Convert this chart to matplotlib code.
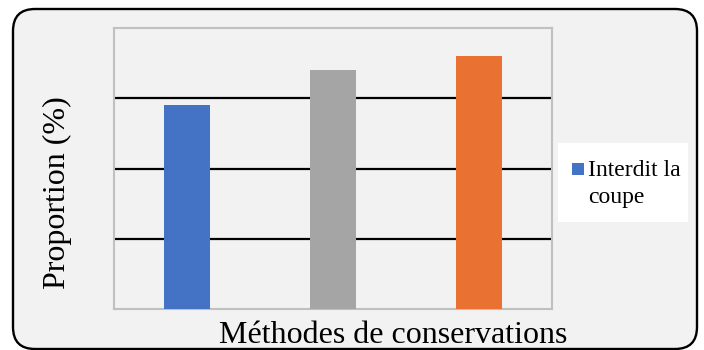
import matplotlib
matplotlib.use("Agg")
import matplotlib.pyplot as plt
from matplotlib.patches import FancyBboxPatch, Rectangle

plt.rcParams['font.family'] = ['Liberation Serif', 'DejaVu Serif']

# Proportions par méthode de conservation
methodes = ['Interdit la coupe', 'Méthode 2', 'Méthode 3']
proportions = [72.6, 85.1, 90.0]
couleurs = ['#4472c4', '#a5a5a5', '#e97132']
legende = ['Interdit la', 'coupe']

W, H = 704, 350
fig = plt.figure(figsize=(W / 100, H / 100), dpi=100, facecolor='white')

# Fond arrondi du graphique (coordonnées en pixels)
bg = fig.add_axes([0, 0, 1, 1])
bg.set_xlim(0, W)
bg.set_ylim(H, 0)
bg.axis('off')
cadre = FancyBboxPatch((13, 9), 684, 340,
                       boxstyle='round,pad=0,rounding_size=22',
                       facecolor='#f2f2f2', edgecolor='black', linewidth=1.7)
bg.add_patch(cadre)

# Zone de traçage
ax = fig.add_axes([114 / W, (H - 309) / H, 438 / W, 281 / H])
ax.set_facecolor('#f2f2f2')
x = range(len(methodes))
barres = ax.bar(x, proportions, width=0.314, color=couleurs, zorder=3)
ax.set_xlim(-0.5, len(methodes) - 0.5)
ax.set_ylim(0, 100)
ax.set_yticks([25, 50, 75])
ax.grid(axis='y', color='black', linewidth=1.6, zorder=1)
ax.set_xticks([])
ax.tick_params(left=False, labelleft=False)
for s in ax.spines.values():
    s.set_color('#c0c0c0')
    s.set_linewidth(1.5)

# Légende : encadré blanc, carré de la série et libellé sur deux lignes
bg.add_patch(Rectangle((558, 143), 130, 79, facecolor='white', edgecolor='none'))
bg.add_patch(Rectangle((572, 163), 12, 12, facecolor=barres[0].get_facecolor(),
                       edgecolor='none'))
for i, ligne in enumerate(legende):
    bg.text(588, 176 + 27 * i, ligne, fontsize=17, ha='left', va='baseline')

# Titres des axes
fig.text(393 / W, 1 - 343 / H, 'Méthodes de conservations', fontsize=23,
         ha='center', va='baseline')
fig.text(57 / W, 1 - 193 / H, 'Proportion (%)', fontsize=23, rotation=90,
         ha='center', va='center')

fig.savefig('out.png', dpi=100, facecolor='white')
